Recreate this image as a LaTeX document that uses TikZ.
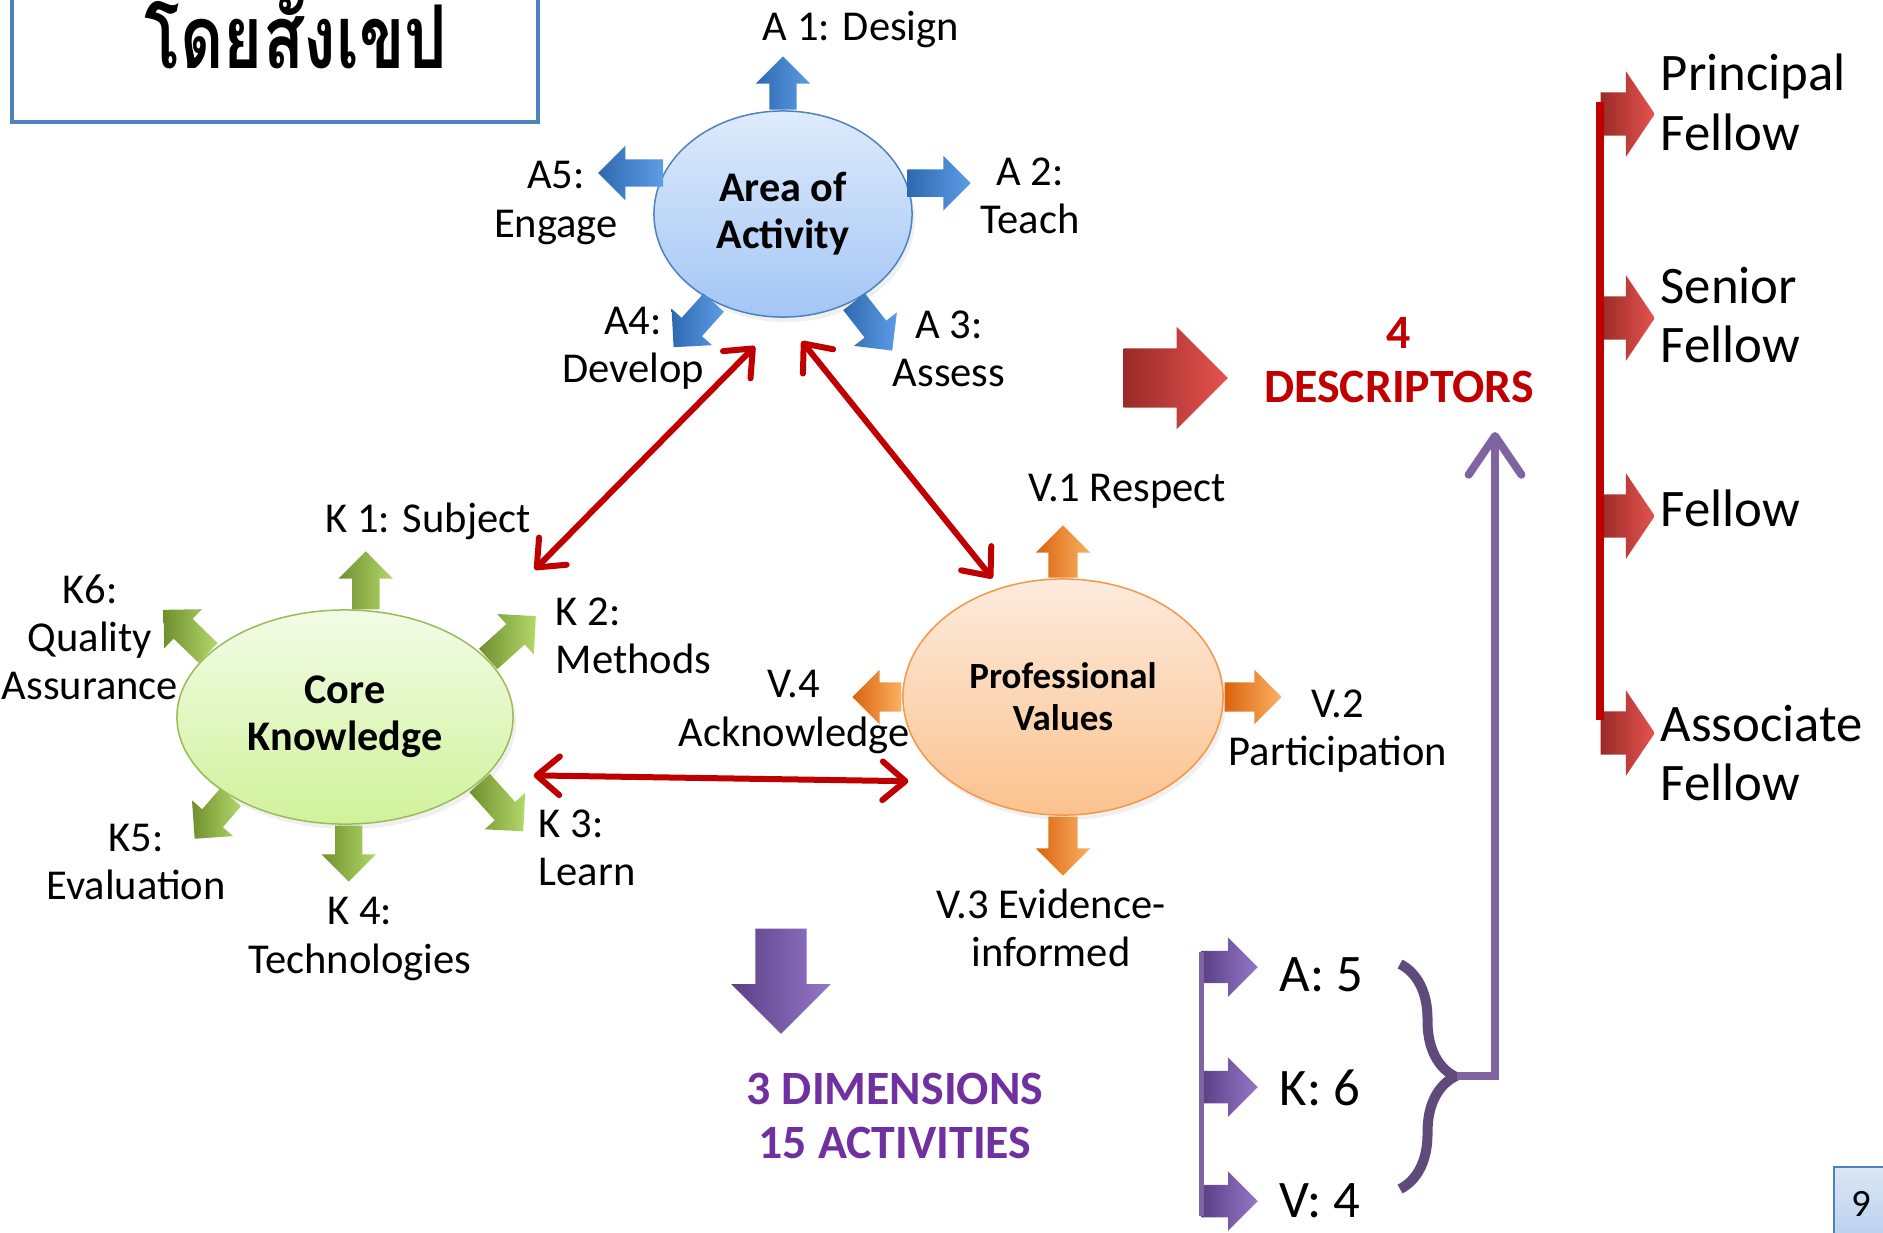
\documentclass[tikz,border=0pt]{standalone}
\usepackage{fontspec}
\usepackage{graphicx}
\setmainfont{Carlito}
\newfontfamily\thaifont[Script=Thai]{Loma}
\usetikzlibrary{shapes.geometric,shapes.arrows,arrows.meta,decorations.pathreplacing,shadows}

\definecolor{ablue}{HTML}{4F81BD}
\definecolor{kgreen}{HTML}{9BBB59}
\definecolor{vorange}{HTML}{F79646}
\definecolor{darkred}{HTML}{C00000}
\definecolor{dpurple}{HTML}{7030A0}
\definecolor{lpurple}{HTML}{8064A2}
\definecolor{bpurple}{HTML}{604A7B}
% arrow shadings
\definecolor{adark}{HTML}{2E69B0}   \definecolor{alight}{HTML}{5C9DE6}
\definecolor{kdark}{HTML}{6F8F2E}   \definecolor{klight}{HTML}{B3D86A}
\definecolor{vdark}{HTML}{D9640E}   \definecolor{vlight}{HTML}{FBB162}
\definecolor{rdark}{HTML}{9A2B28}   \definecolor{rlight}{HTML}{E5534F}
\definecolor{pdark}{HTML}{5B3F86}   \definecolor{plight}{HTML}{9478C9}
% ellipse shadings
\definecolor{atop}{HTML}{DEEBFC}    \definecolor{abot}{HTML}{A3C6F5}
\definecolor{ktop}{HTML}{F2FCE6}    \definecolor{kbot}{HTML}{D0F29B}
\definecolor{vtop}{HTML}{FDEBDD}    \definecolor{vbot}{HTML}{FBC28E}
\definecolor{pgtop}{HTML}{DCE6F5}   \definecolor{pgbot}{HTML}{B3CDED}

\tikzset{
  lbl/.style={font=\fontsize{12.1}{13.7}\selectfont, align=center, inner sep=0pt},
  rlbl/.style={font=\fontsize{15}{17}\selectfont, align=left, anchor=west, inner sep=0pt},
  hub/.style={ellipse, align=center, line width=0.015cm, font=\bfseries\fontsize{12}{13.4}\selectfont,
    drop shadow={opacity=0.12, shadow xshift=0.03cm, shadow yshift=-0.05cm}},
  blk/.style={single arrow, draw=none, anchor=tail, inner xsep=0pt, minimum width=0pt, single arrow tip angle=90},
  aarr/.style={blk, inner ysep=0.13cm, single arrow head extend=0.135cm, left color=adark, right color=alight},
  karr/.style={blk, inner ysep=0.13cm, single arrow head extend=0.135cm, left color=kdark, right color=klight},
  varr/.style={blk, inner ysep=0.14cm, single arrow head extend=0.125cm, left color=vdark, right color=vlight},
  rarr/.style={blk, left color=rdark, right color=rlight},
  parr/.style={blk, left color=pdark, right color=plight},
  conn/.style={<->, >={Straight Barb[round,length=6.5pt,width=11pt]}, draw=darkred, line width=0.06cm, line cap=round},
}

\begin{document}
\begin{tikzpicture}[x=0.01cm, y=-0.01cm]
\useasboundingbox (0,0) rectangle (1883,1232);

% title box
\draw[ablue, line width=0.04cm] (12,-30) rectangle (538,122);
\node[inner sep=0pt, font=\thaifont\bfseries\fontsize{25}{28}\selectfont] (title) at (296,33) {\scalebox{0.76}[1]{โดยสังเขป}};

% the three dimensions
\node[hub, draw=ablue, top color=atop, bottom color=abot,
  minimum width=2.58cm, minimum height=2.06cm] (area) at (783,214) {Area of\\Activity};
\node[hub, draw=kgreen, top color=ktop, bottom color=kbot,
  minimum width=3.36cm, minimum height=2.14cm] (core) at (345,717) {Core\\Knowledge};
\node[hub, draw=vorange, top color=vtop, bottom color=vbot,
  font=\bfseries\fontsize{10.5}{12}\selectfont,
  minimum width=3.2cm, minimum height=2.36cm] (prof) at (1063,697) {Professional\\Values};

% areas of activity
\node[aarr, rotate=90, minimum height=0.53cm] (a1) at (area.north) {};
\node[aarr, rotate=0, minimum height=0.63cm] (a2) at (area.14) {};
\node[aarr, rotate=-52, minimum height=0.62cm] (a3) at (area.-51) {};
\node[aarr, rotate=-132, minimum height=0.6cm] (a4) at (area.-128) {};
\node[aarr, rotate=180, minimum height=0.65cm] (a5) at (area.161) {};
\node[lbl] (a1l) at (861,30) {A 1: Design};
\node[lbl] (a2l) at (1030,196) {A 2:\\Teach};
\node[lbl] (a3l) at (949,349) {A 3:\\Assess};
\node[lbl] (a4l) at (633,348) {A4:\\Develop};
\node[lbl] (a5l) at (556,203) {A5:\\Engage};

% core knowledge
\node[karr, rotate=90, minimum height=0.58cm] (k1) at (core.79) {};
\node[karr, rotate=42, minimum height=0.64cm] (k2) at (core.22) {};
\node[karr, rotate=-48, minimum height=0.65cm] (k3) at (core.-26) {};
\node[karr, rotate=-90, minimum height=0.56cm] (k4) at (core.-88) {};
\node[karr, rotate=-131, minimum height=0.55cm] (k5) at (core.-145) {};
\node[karr, rotate=136, minimum height=0.62cm] (k6) at (core.155) {};
\node[lbl] (k1l) at (428,521) {K 1: Subject};
\node[lbl, anchor=west, align=left] (k2l) at (555,636) {K 2:\\Methods};
\node[lbl, anchor=west, align=left] (k3l) at (538,848) {K 3:\\Learn};
\node[lbl] (k4l) at (360,939) {K 4:\\Technologies};
\node[lbl] (k5l) at (136,862) {K5:\\Evaluation};
\node[lbl] (k6l) at (90,637) {K6:\\Quality\\Assurance};

% professional values
\node[varr, rotate=90, minimum height=0.52cm] (v1) at (prof.north) {};
\node[varr, rotate=0, minimum height=0.57cm] (v2) at (prof.east) {};
\node[varr, rotate=-90, minimum height=0.59cm] (v3) at (prof.south) {};
\node[varr, rotate=180, minimum height=0.49cm] (v4) at (prof.west) {};
\node[lbl] (v1l) at (1127,491) {V.1 Respect};
\node[lbl] (v2l) at (1338,731) {V.2\\Participation};
\node[lbl] (v3l) at (1051,928) {V.3 Evidence-\\informed};
\node[lbl] (v4l) at (794,712) {V.4\\Acknowledge};

% links between dimensions
\draw[conn, shorten <=0.4cm, shorten >=1.0cm] (area.south) -- (core.north east);
\draw[conn, shorten <=0.3cm, shorten >=0.12cm] (area.south) -- (prof.120);
\draw[conn, shorten <=0.46cm, shorten >=0.42cm] (core.-22) -- (prof.-143);

% descriptors
\node[rarr, minimum height=1.04cm, inner ysep=0.29cm, single arrow head extend=0.215cm] (dr) at (1123,378) {};
\node[font=\bfseries\fontsize{13.6}{15.4}\selectfont, text=darkred, align=center, inner sep=0pt] (desc) at (1399,360) {4\\DESCRIPTORS};
\foreach \y/\n in {114/pf,318/sf,516/fe,733/af}
  \node[rarr, minimum height=0.54cm, inner ysep=0.21cm, single arrow head extend=0.21cm, single arrow tip angle=112] (\n) at (1600,\y) {};
\draw[darkred, line width=0.08cm] ([yshift=0.12cm]pf.tail) -- ([yshift=0.13cm]af.tail);
\node[rlbl] (pfl) at (1660,102) {Principal\\Fellow};
\node[rlbl] (sfl) at (1660,315) {Senior\\Fellow};
\node[rlbl] (fel) at (1660,508) {Fellow};
\node[rlbl] (afl) at (1660,753) {Associate\\Fellow};

% activities
\node[parr, rotate=-90, minimum height=1.05cm, inner ysep=0.25cm, single arrow head extend=0.24cm] (dn) at (781,928) {};
\node[font=\bfseries\fontsize{13.6}{15.4}\selectfont, text=dpurple, align=center, inner sep=0pt] (dims) at (895,1116) {3 DIMENSIONS\\15 ACTIVITIES};
\foreach \y/\n in {967/pa,1087/pk,1201/pv}
  \node[parr, minimum height=0.56cm, inner ysep=0.155cm, single arrow head extend=0.135cm] (\n) at (1201,\y) {};
\draw[lpurple, line width=0.05cm] ([yshift=0.15cm]pa.tail) -- ([yshift=-0.15cm]pv.tail);
\node[rlbl] (pal) at (1279,975) {A: 5};
\node[rlbl] (pkl) at (1279,1088) {K: 6};
\node[rlbl] (pvl) at (1279,1201) {V: 4};
\draw[bpurple, line width=0.1cm, decorate, decoration={brace, amplitude=0.55cm}] (1400,964) -- (1400,1189);
\coordinate (btip) at (1457,1076);
\coordinate (up) at (1495,432);
\draw[lpurple, line width=0.08cm, -{Straight Barb[round,length=11pt,width=15pt]}] (btip) -| (up);

% page number
\draw[ablue, line width=0.02cm, top color=pgtop, bottom color=pgbot] (1834,1167) rectangle (1900,1250);
\node[font=\fontsize{11}{13}\selectfont] (pgno) at (1861,1204) {9};
\end{tikzpicture}
\end{document}
